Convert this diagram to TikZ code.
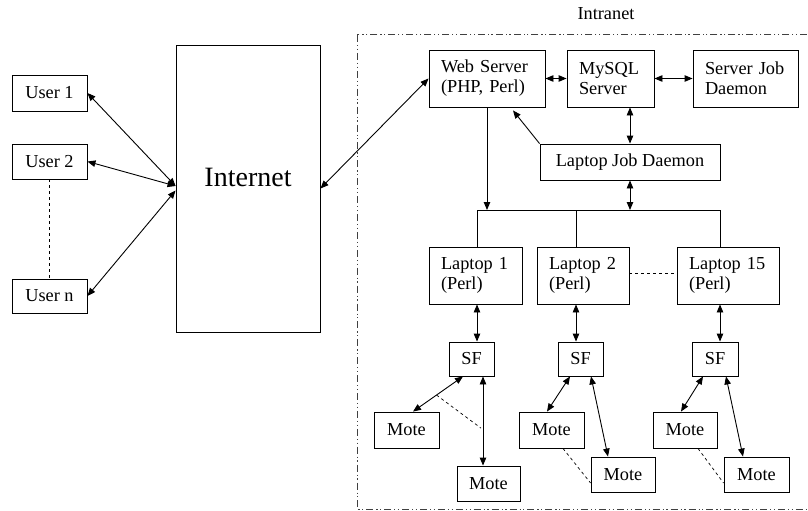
\documentclass[tikz,border=0pt]{standalone}
\usepackage{fontspec}
\setmainfont{Liberation Serif}
\usetikzlibrary{arrows.meta}

\begin{document}
\begin{tikzpicture}[x=1pt, y=-1pt, line width=0.9pt,
        font=\fontsize{18.3}{20}\selectfont,
        >={Triangle[length=8pt, width=6.5pt]},
        box/.style={draw, inner sep=0pt, minimum height=#1},
        box/.default=36,
        multi/.style={draw, inner ysep=0pt, inner xsep=12pt, align=left, text width=#1, minimum height=57},
        link/.style={<->},
        hint/.style={dashed, line width=0.7pt, dash pattern=on 3pt off 3pt}]

            \useasboundingbox (0,0) rectangle (808,511);

                % Users and the Internet:
                \node[box, minimum width=75] (u1) at (49.5,93) {User 1};
                \node[box=35, minimum width=75] (u2) at (49.5,161.5) {User 2};
                \node[box=34, minimum width=75] (un) at (49.5,296) {User n};
                \node[draw, minimum width=144, minimum height=287] (inet) at (248,188.5) {};
                \node at (248,177) {\fontsize{28}{30}\selectfont Internet};

                \draw[link] (u1.east) -- ([yshift=2.5]inet.west);
                \draw[link] (u2.east) -- ([yshift=2.5]inet.west);
                \draw[link] (un.east) -- ([yshift=-2]inet.west);
                \draw[hint] (u2.south) -- (un.north);

                % Intranet frame:
                \draw[gray!50!black, line width=1pt, dash pattern=on 7pt off 3pt on 1.2pt off 2.5pt on 1.2pt off 3pt] (357,35) rectangle (815,509);
                \node (intra) at (606,14) {Intranet};

                % Servers:
                \node[multi=92] (web) at (487,78.5) {Web Server\\(PHP, Perl)};
                \node[multi=63] (mysql) at (610.5,78.5) {MySQL\\Server};
                \node[multi=81] (sjd) at (745.5,78.5) {Server Job\\Daemon};
                \node[box, minimum width=180] (ljd) at (630,162) {Laptop Job Daemon};

                \draw[link] (inet.east) -- (web.west);
                \draw[link] (web.east) -- (mysql.west);
                \draw[link] (mysql.east) -- (sjd.west);
                \draw[link] (ljd.north |- mysql.south) -- (ljd.north);
                \draw[->] (ljd.north west) -- ([xshift=26, yshift=-3]web.south);

                % Bus to the laptops:
                \coordinate (tap1) at (477,210);
                \coordinate (tap2) at (576,210);
                \coordinate (tap15) at (720,210);
                \draw (tap1) -- (tap15);
                \draw[->] (web.south) -- (web.south |- tap1);
                \draw[link] (ljd.south) -- (ljd.south |- tap1);

                % Laptops:
                \node[multi=69] (lap1) at (475.5,275.5) {Laptop 1\\(Perl)};
                \node[multi=68] (lap2) at (583,275.5) {Laptop 2\\(Perl)};
                \node[multi=78] (lap15) at (728,275.5) {Laptop 15\\(Perl)};
                \draw (tap1) -- (tap1 |- lap1.north);
                \draw (tap2) -- (tap2 |- lap2.north);
                \draw (tap15) -- (tap15 |- lap15.north);
                \draw[hint] ([yshift=2.5]lap2.east) -- ([yshift=2.5]lap15.west);

                % Serial forwarders:
                \node[box=34, minimum width=45] (sf1) at (471.5,359) {SF};
                \node[box=34, minimum width=45] (sf2) at (580.5,359) {SF};
                \node[box=34, minimum width=46] (sf15) at (715,359) {SF};
                \draw[link] (tap1 |- lap1.south) -- (tap1 |- sf1.north);
                \draw[link] (tap2 |- lap2.south) -- (tap2 |- sf2.north);
                \draw[link] (tap15 |- lap15.south) -- (tap15 |- sf15.north);

                % Motes:
                \node[box, minimum width=65] (m1a) at (406.5,430) {Mote};
                \node[box=35, minimum width=63] (m1b) at (488.5,483.5) {Mote};
                \node[box, minimum width=65] (m2a) at (551.5,430) {Mote};
                \node[box=35, minimum width=64] (m2b) at (623,474.5) {Mote};
                \node[box, minimum width=64] (m15a) at (685,430) {Mote};
                \node[box=35, minimum width=65] (m15b) at (756.5,474.5) {Mote};

                \draw[link] ([xshift=-8.5]sf1.south) -- coordinate[pos=0.53] (d1) ([xshift=6.5]m1a.north);
                \draw[link] ([xshift=11.5]sf1.south) -- coordinate[pos=0.58] (d2) ([xshift=-5.5]m1b.north);
                \draw[hint] (d1) -- ([xshift=-2]d2);

                \draw[link] ([xshift=-10.5]sf2.south) -- ([xshift=-4.5]m2a.north);
                \draw[link] ([xshift=10.5]sf2.south) -- ([xshift=-15]m2b.north);
                \draw[hint] ([xshift=11.5]m2a.south) -- ([yshift=-8.5]m2b.west);

                \draw[link] ([xshift=-12]sf15.south) -- ([xshift=-4]m15a.north);
                \draw[link] ([xshift=11]sf15.south) -- ([xshift=-13.5]m15b.north);
                \draw[hint] ([xshift=13]m15a.south) -- ([yshift=-8.5]m15b.west);
            \end{tikzpicture}
\end{document}
